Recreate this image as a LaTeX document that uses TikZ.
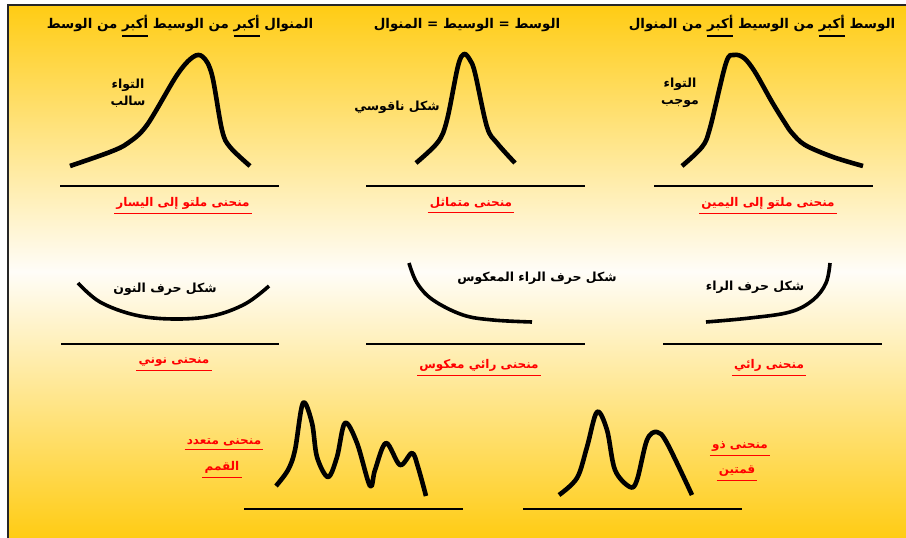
\documentclass[tikz,border=0pt]{standalone}
\usepackage{fontspec}
\newfontfamily\ar[Script=Arabic]{DejaVu Sans}
\TeXXeTstate=1
\newcommand\myul[1]{\setbox0\hbox{#1}\vtop{\copy0\kern4pt\hrule height 1.8pt width\wd0}}
\definecolor{gold}{RGB}{255,204,20}
\definecolor{pale}{RGB}{255,253,248}
\begin{document}
\begin{tikzpicture}[x=1pt,y=-1pt,
  curve/.style={line width=4.6pt,line join=round,smooth,tension=0.55},
  arcline/.style={line width=3.6pt,line join=round,smooth,tension=0.6},
  base/.style={line width=1.4pt},
  head/.style={font=\ar\bfseries\fontsize{13.4}{15}\selectfont,inner sep=0pt,anchor=base},
  note/.style={font=\ar\bfseries\fontsize{12.5}{14}\selectfont,inner sep=0pt,align=center},
  lab/.style={font=\ar\bfseries\fontsize{12}{14}\selectfont,text=red,inner xsep=2pt,inner ysep=4pt},
  ul/.style={red,line width=1.2pt}]
\useasboundingbox (0,0) rectangle (906,538);
\fill[white] (0,0) rectangle (906,538);
\shade[top color=gold,bottom color=gold,middle color=pale] (8,5) rectangle (906,538);
\draw[line width=1.5pt,black!85] (8,538) -- (8,5) -- (906,5);

% headers
\node[head] (h1) at (180,28) {\beginR المنوال \myul{أكبر} من الوسيط \myul{أكبر} من الوسط\endR};
\node[head] (h2) at (467,28) {\beginR الوسط = الوسيط = المنوال\endR};
\node[head] (h3) at (762,28) {\beginR الوسط \myul{أكبر} من الوسيط \myul{أكبر} من المنوال\endR};

% top left: negative skew
\draw[curve] plot coordinates {(70,166) (110,152) (128,143) (147,125) (177,75) (193,57) (203,57) (212,75) (222,130) (230,147) (250,166)};
\draw[base] (60,186) -- (279,186);
\node[note] (n1) at (128,93) {\beginR التواء\endR\\[3pt]\beginR سالب\endR};
\node[lab] (l1) at (183,203) {\beginR منحنى ملتو إلى اليسار\endR};
\draw[ul] (l1.south west) -- (l1.south east);

% top middle: symmetric
\draw[curve] plot coordinates {(416,163) (438,142) (447,120) (458,66) (464,54) (470,60) (475,73) (487,127) (497,143) (515,163)};
\draw[base] (366,186) -- (585,186);
\node[note] (n2) at (397,107) {\beginR شكل ناقوسي\endR};
\node[lab] (l2) at (471,203) {\beginR منحنى متماثل\endR};
\draw[ul] (l2.south west) -- (l2.south east);

% top right: positive skew
\draw[curve] plot coordinates {(682,166) (702,147) (710,128) (726,63) (734,55) (744,58) (755,72) (772,102) (785,123) (792,133) (805,145) (833,157) (863,166)};
\draw[base] (654,186) -- (873,186);
\node[note] (n3) at (680,93) {\beginR التواء\endR\\[3pt]\beginR موجب\endR};
\node[lab] (l3) at (768,203) {\beginR منحنى ملتو إلى اليمين\endR};
\draw[ul] (l3.south west) -- (l3.south east);

% middle left: U shape
\draw[arcline] plot coordinates {(78,283) (100,302) (135,315) (173,319) (212,316) (245,304) (269,286)};
\draw[base] (61,344) -- (279,344);
\node[note] (n4) at (165,289) {\beginR شكل حرف النون\endR};
\node[lab] (l4) at (174,362) {\beginR منحنى نوني\endR};
\draw[ul] (l4.south west) -- (l4.south east);

% middle middle: reversed ra
\draw[arcline] plot coordinates {(409,263) (417,283) (433,300) (463,315) (493,320) (532,322)};
\draw[base] (366,344) -- (585,344);
\node[note] (n5) at (537,278) {\beginR شكل حرف الراء المعكوس\endR};
\node[lab] (l5) at (479,365) {\beginR منحنى رائي معكوس\endR};
\draw[ul] (l5.south west) -- (l5.south east);

% middle right: ra
\draw[arcline] plot coordinates {(830,263) (826,283) (813,300) (790,312) (750,318) (706,322)};
\draw[base] (663,344) -- (882,344);
\node[note] (n6) at (755,287) {\beginR شكل حرف الراء\endR};
\node[lab] (l6) at (769,365) {\beginR منحنى رائي\endR};
\draw[ul] (l6.south west) -- (l6.south east);

% bottom left: multimodal
\draw[curve] plot coordinates {(276,486) (288,470) (295,450) (303,403) (312,423) (317,457) (328,477) (337,457) (345,423) (357,443) (370,486) (375,470) (386,443) (400,465) (412,453) (418,467) (426,496)};
\draw[base] (244,509) -- (463,509);
\node[lab] (l7) at (224,442) {\beginR منحنى متعدد\endR};
\draw[ul] (l7.south west) -- (l7.south east);
\node[lab] (l8) at (222,467) {\beginR القمم\endR};
\draw[ul] (l8.south west) -- (l8.south east);

% bottom right: bimodal
\draw[curve] plot coordinates {(559,495) (577,478) (587,447) (597,412) (607,430) (615,470) (630,487) (637,480) (647,440) (657,432) (667,443) (692,495)};
\draw[base] (523,509) -- (742,509);
\node[lab] (l9) at (740,446) {\beginR منحنى ذو\endR};
\draw[ul] (l9.south west) -- (l9.south east);
\node[lab] (l10) at (737,471) {\beginR قمتين\endR};
\draw[ul] (l10.south west) -- (l10.south east);
\end{tikzpicture}
\end{document}
